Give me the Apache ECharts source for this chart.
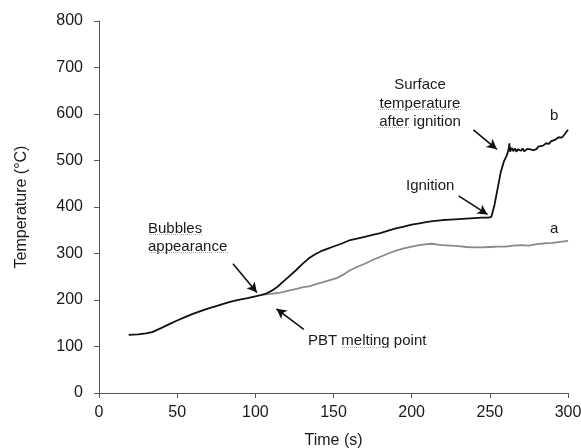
<!DOCTYPE html>
<html><head><meta charset="utf-8">
<script src="https://cdn.jsdelivr.net/npm/echarts@6/dist/echarts.min.js"></script>
<style>html,body{margin:0;padding:0;background:#fff}#c{width:581px;height:448px}</style>
</head><body><div id="c"></div>
<script>
// Common heating part (both curves)
const tCommon = [19,25,30,34,40,45,50,55,60,65,70,75,80,85,90,95,100,104];
const vCommon = [125,126,128,131,140,148,156,163,170,176,182,187,192,197,201,204,208,211];
// Curve b (black)
const tB = [107,110,114,118,122,126,130,134,138,142,146,150,155,160,165,170,175,180,185,190,195,200,205,210,215,220,225,230,235,240,245,249,251,253,255,257,259,261,262,262.5,263,264,265,266,267,268,270,271,272,274,275,276,278,280,281,282,284,285,286,288,289,290,292,293,294,296,297,298,299,300];
const vB = [214,219,228,240,252,264,277,289,298,305,310,315,321,328,332,336,340,344,349,354,358,362,365,368,370,372,373,374,375,376,377,377,379,405,440,475,498,512,524,537,519,527,520,526,519,524,521,526,520,525,521,524,522,525,530,526,532,531,537,536,541,540,545,544,550,549,553,557,560,566];
// Curve a (grey)
const tA = [110,116,120,125,130,135,139,145,152,156,160,165,170,175,180,185,190,195,200,205,210,213,217,220,225,230,235,240,245,250,255,260,265,270,275,280,285,290,295,300];
const vA = [213,216,219,223,227,230,234,240,247,254,263,271,278,286,293,300,306,311,315,318,320,321,319,318,317,316,314,313,313,314,315,315,317,318,317,320,322,323,325,327];
const xTicks = [0,50,100,150,200,250,300];
const yTicks = [0,100,200,300,400,500,600,700,800];

function pairs(t, v){ return t.map((x,i)=>[x, v[i]]); }
const dataB = pairs(tCommon, vCommon).concat(pairs(tB, vB));
const dataA = pairs(tCommon.slice(-1), vCommon.slice(-1)).concat(pairs(tA, vA));

const FONT = 'Liberation Sans, Arial, sans-serif';
const chart = echarts.init(document.getElementById('c'));
const axisCommon = {
  axisLine:{show:true,lineStyle:{color:'#555',width:1}},
  axisTick:{show:true,length:5,lineStyle:{color:'#555'}},
  splitLine:{show:false},
  nameTextStyle:{color:'#1a1a1a',fontSize:16,fontFamily:FONT}
};
const lbl = (m)=>({color:'#1a1a1a',fontSize:16,fontFamily:FONT,margin:m});
const arrowStyle = {color:'#111',width:1.6,type:'solid'};
chart.setOption({
  animation:false,
  grid:{left:99,right:13,top:21,bottom:55,containLabel:false,outerBoundsMode:'none'},
  xAxis: Object.assign({type:'value',min:xTicks[0],max:xTicks[xTicks.length-1],interval:50,name:'Time (s)',nameLocation:'middle',nameGap:40,axisLabel:lbl(12)}, axisCommon),
  yAxis: Object.assign({type:'value',min:yTicks[0],max:yTicks[yTicks.length-1],interval:100,name:'Temperature (°C)',nameLocation:'middle',nameGap:69,axisLabel:lbl(16)}, axisCommon),
  series:[
    {type:'line',data:dataA,showSymbol:false,lineStyle:{color:'#8a8a8a',width:1.8},z:2},
    {type:'line',data:dataB,showSymbol:false,lineStyle:{color:'#111',width:1.8},z:3,
     markLine:{silent:true,symbol:['none','arrow'],symbolSize:[8,10],label:{show:false},lineStyle:arrowStyle,
       data:[
         [{coord:[85.7,278]},{coord:[101,216]}],
         [{coord:[131,137]},{coord:[113.5,181]}],
         [{coord:[230,424]},{coord:[248.5,384]}],
         [{coord:[239.5,566]},{coord:[254.5,524]}]
       ]}}
  ],
  graphic:[
    {type:'text',left:148,top:220,style:{text:'Bubbles\nappearance',font:'15px '+FONT,fill:'#1a1a1a',lineHeight:18}},
    {type:'text',left:308,top:333,style:{text:'PBT melting point',font:'15px '+FONT,fill:'#1a1a1a'}},
    {type:'text',left:406,top:178,style:{text:'Ignition',font:'15px '+FONT,fill:'#1a1a1a'}},
    {type:'text',x:420,y:76,style:{text:'Surface\ntemperature\nafter ignition',font:'15px '+FONT,fill:'#1a1a1a',align:'center',verticalAlign:'top',lineHeight:18.3}},
    {type:'text',left:550,top:108,style:{text:'b',font:'15px '+FONT,fill:'#1a1a1a'}},
    {type:'text',left:550,top:221,style:{text:'a',font:'15px '+FONT,fill:'#1a1a1a'}},
    {type:'line',shape:{x1:149,y1:234.5,x2:203,y2:234.5},style:{stroke:'#aaa',lineWidth:1,lineDash:[1,1]}},
    {type:'line',shape:{x1:149,y1:252.5,x2:228,y2:252.5},style:{stroke:'#aaa',lineWidth:1,lineDash:[1,1]}},
    {type:'line',shape:{x1:378,y1:109.5,x2:462,y2:109.5},style:{stroke:'#aaa',lineWidth:1,lineDash:[1,1]}},
    {type:'line',shape:{x1:378,y1:127.5,x2:410,y2:127.5},style:{stroke:'#aaa',lineWidth:1,lineDash:[1,1]}},
    {type:'line',shape:{x1:342,y1:347.5,x2:390,y2:347.5},style:{stroke:'#aaa',lineWidth:1,lineDash:[1,1]}}
  ]
});
</script></body></html>
